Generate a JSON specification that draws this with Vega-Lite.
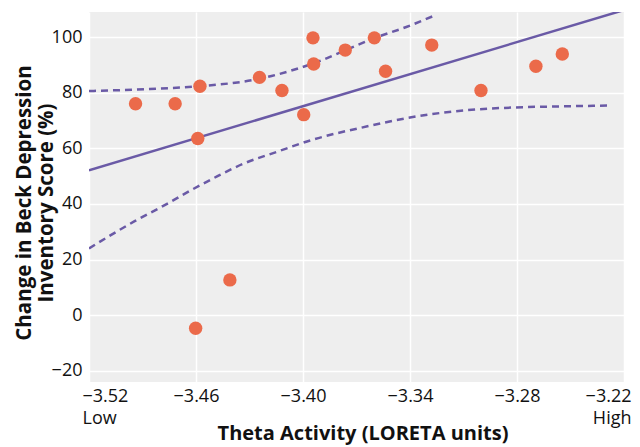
{
  "$schema": "https://vega.github.io/schema/vega-lite/v6.json",
  "width": 535,
  "height": 370,
  "autosize": {"type": "none"},
  "padding": {"left": 89, "top": 12, "right": 16, "bottom": 65},
  "background": "white",
  "config": {
    "view": {"fill": "#eeeeee", "stroke": null},
    "font": "Open Sans",
    "axis": {
      "gridColor": "white",
      "gridWidth": 1.5,
      "domain": false,
      "ticks": false,
      "labelFont": "Open Sans",
      "labelFontSize": 18,
      "labelColor": "#111111",
      "titleFont": "Open Sans",
      "titleFontSize": 20,
      "titleFontWeight": "bold",
      "titleColor": "#111111"
    }
  },
  "datasets": {
    "pts": [
      {"theta": -3.4939, "bdi": 76.0},
      {"theta": -3.4717, "bdi": 76.0},
      {"theta": -3.4578, "bdi": 82.3},
      {"theta": -3.4590, "bdi": 63.5},
      {"theta": -3.4244, "bdi": 85.5},
      {"theta": -3.4118, "bdi": 80.8},
      {"theta": -3.3996, "bdi": 72.1},
      {"theta": -3.3944, "bdi": 99.7},
      {"theta": -3.3940, "bdi": 90.3},
      {"theta": -3.3763, "bdi": 95.3},
      {"theta": -3.3600, "bdi": 99.7},
      {"theta": -3.3537, "bdi": 87.7},
      {"theta": -3.3278, "bdi": 97.1},
      {"theta": -3.3002, "bdi": 80.8},
      {"theta": -3.2694, "bdi": 89.5},
      {"theta": -3.2546, "bdi": 93.9},
      {"theta": -3.4410, "bdi": 12.7},
      {"theta": -3.4602, "bdi": -4.7}
    ],
    "fit": [
      {"theta": -3.52, "bdi": 52.1},
      {"theta": -3.22, "bdi": 109.7}
    ],
    "upper": [
      {"theta": -3.52, "bdi": 80.6},
      {"theta": -3.4861, "bdi": 81.3},
      {"theta": -3.4583, "bdi": 82.3},
      {"theta": -3.4244, "bdi": 85.0},
      {"theta": -3.4028, "bdi": 88.7},
      {"theta": -3.3917, "bdi": 91.1},
      {"theta": -3.3761, "bdi": 95.3},
      {"theta": -3.3600, "bdi": 99.6},
      {"theta": -3.3417, "bdi": 103.7},
      {"theta": -3.3256, "bdi": 107.9}
    ],
    "lower": [
      {"theta": -3.52, "bdi": 24.0},
      {"theta": -3.4944, "bdi": 33.8},
      {"theta": -3.4778, "bdi": 39.5},
      {"theta": -3.4629, "bdi": 44.9},
      {"theta": -3.4482, "bdi": 49.9},
      {"theta": -3.4333, "bdi": 54.5},
      {"theta": -3.4148, "bdi": 58.7},
      {"theta": -3.3956, "bdi": 62.9},
      {"theta": -3.3639, "bdi": 67.9},
      {"theta": -3.3361, "bdi": 71.5},
      {"theta": -3.3083, "bdi": 73.7},
      {"theta": -3.2806, "bdi": 74.7},
      {"theta": -3.2528, "bdi": 75.1},
      {"theta": -3.2268, "bdi": 75.4}
    ]
  },
  "layer": [
    {
      "data": {"name": "fit"},
      "mark": {"type": "line", "color": "#6a5aa6", "strokeWidth": 2.5, "clip": true},
      "encoding": {
        "x": {
          "field": "theta", "type": "quantitative",
          "scale": {"domain": [-3.52, -3.22], "nice": false, "zero": false},
          "axis": {
            "values": [-3.52, -3.46, -3.40, -3.34, -3.28, -3.22],
            "format": ".2f",
            "labelFlush": true,
            "labelFlushOffset": 7,
            "labelPadding": 5,
            "labelLineHeight": 22,
            "labelExpr": "datum.index == 0 ? [datum.label, 'Low'] : datum.index == 1 ? [datum.label, 'High'] : datum.label",
            "title": "Theta Activity (LORETA units)",
            "titleX": 273.5,
            "titlePadding": -4
          }
        },
        "y": {
          "field": "bdi", "type": "quantitative",
          "scale": {"domain": [-24, 109], "nice": false, "zero": false},
          "axis": {
            "values": [-20, 0, 20, 40, 60, 80, 100],
            "labelPadding": 7,
            "title": ["Change in Beck Depression", "Inventory Score (%)"],
            "titleX": -65,
            "titleY": 190.5,
            "titleFontSize": 20.5,
            "titleBaseline": "middle",
            "titleLineHeight": 22
          }
        }
      }
    },
    {
      "data": {"name": "upper"},
      "mark": {"type": "line", "color": "#6a5aa6", "strokeWidth": 2.5, "strokeDash": [7, 5], "clip": true, "interpolate": "monotone"},
      "encoding": {
        "x": {"field": "theta", "type": "quantitative"},
        "y": {"field": "bdi", "type": "quantitative"}
      }
    },
    {
      "data": {"name": "lower"},
      "mark": {"type": "line", "color": "#6a5aa6", "strokeWidth": 2.5, "strokeDash": [7, 5], "clip": true, "interpolate": "monotone"},
      "encoding": {
        "x": {"field": "theta", "type": "quantitative"},
        "y": {"field": "bdi", "type": "quantitative"}
      }
    },
    {
      "data": {"name": "pts"},
      "mark": {"type": "circle", "color": "#eb6a4a", "opacity": 1, "size": 180},
      "encoding": {
        "x": {"field": "theta", "type": "quantitative"},
        "y": {"field": "bdi", "type": "quantitative"}
      }
    }
  ]
}
